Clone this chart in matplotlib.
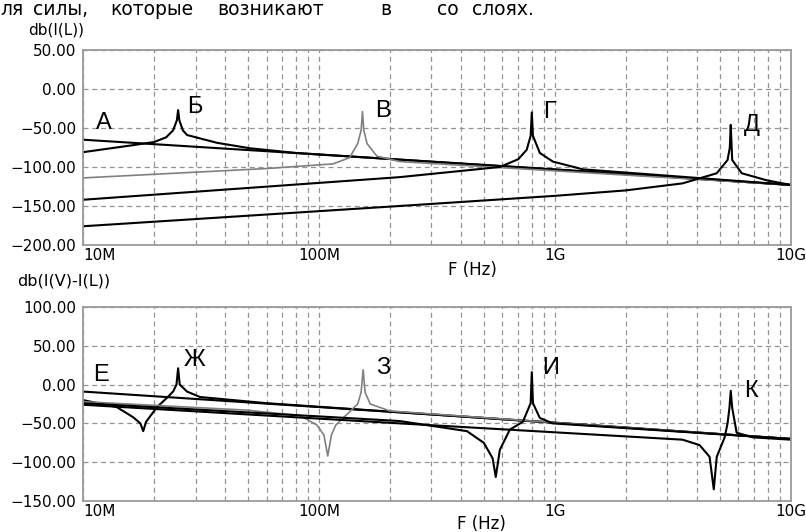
import numpy as np
import matplotlib
matplotlib.use('Agg')
import matplotlib.pyplot as plt
from matplotlib.ticker import FixedLocator, LogLocator, NullFormatter

# ---- data (frequency in MHz, level in dB) ----
# top plot: db(I(L))
a_f = [10, 100, 1000, 10000]
a_db = [-65, -84, -103, -123]

b_f = [10, 16.3, 20, 22.5, 24.1, 25.0, 25.3, 25.6, 26.5, 27.6, 37, 51, 80, 10000]
b_db = [-81, -72, -68, -62, -53, -40, -27, -40, -53, -59, -69, -76, -82, -123]

v_f = [10, 60, 115, 135, 146, 151, 153, 155, 160, 176, 220, 280, 10000]
v_db = [-114, -102, -96, -88, -70, -53, -29, -53, -70, -86, -93, -95, -123]

g_f = [10, 220, 585, 700, 760, 790, 799, 808, 864, 980, 1315, 10000]
g_db = [-142, -113, -100, -90, -78, -60, -30, -60, -82, -93, -103, -123]

d_f = [10, 220, 1000, 2000, 3480, 4860, 5400, 5520, 5570, 5620, 5650, 6200, 7900, 10000]
d_db = [-176, -150, -137, -130, -121, -108, -91, -75, -46, -75, -91, -108, -117, -123]

# bottom plot: db(I(V)-I(L))
e_f = [10, 100, 1000, 10000]
e_db = [-9, -29, -49, -70]

zh_f = [10, 13.9, 16.3, 17.5, 18.0, 18.5, 20.6, 22.7, 24.1, 24.9, 25.3, 25.7, 27.6, 31.3, 60, 10000]
zh_db = [-20, -29, -42, -50, -60, -48, -29, -17, -9, 0, 21, 0, -9, -16, -24, -70]

z_f = [10, 50, 83, 98, 105, 109, 113, 118, 135, 146, 151, 154, 157, 165, 200, 1000, 10000]
z_db = [-22, -33, -40, -52, -65, -92, -65, -52, -35, -25, -10, 19, -10, -25, -34, -49, -70]

i_f = [10, 100, 220, 424, 500, 545, 562, 585, 645, 732, 790, 799, 808, 864, 980, 10000]
i_db = [-24, -41, -47, -60, -75, -95, -119, -84, -58, -48, -24, 16, -24, -43, -50, -70]

k_f = [10, 220, 3480, 4110, 4530, 4720, 4860, 5250, 5400, 5500, 5570, 5650, 5900, 6900, 10000]
k_db = [-26, -50, -71, -78, -93, -135, -93, -68, -50, -30, -8, -30, -62, -68, -71]

ticks_f = [10, 100, 1000, 10000]
ticks_lbl = ['10M', '100M', '1G', '10G']

top_curves = [(a_f, a_db, 'black'), (b_f, b_db, 'black'), (v_f, v_db, 'gray'),
              (g_f, g_db, 'black'), (d_f, d_db, 'black')]
bot_curves = [(e_f, e_db, 'black'), (zh_f, zh_db, 'black'), (z_f, z_db, 'gray'),
              (i_f, i_db, 'black'), (k_f, k_db, 'black')]

top_letters = [('А', 12.2, -44), ('Б', 29.8, -23), ('В', 187, -28), ('Г', 952, -30), ('Д', 6840, -46)]
bot_letters = [('Е', 11.9, 12), ('Ж', 29.8, 32), ('З', 187, 21), ('И', 961, 21), ('К', 6770, -8)]

# words of the book line above the figure, with their left edge in pixels
book_words = [('ля', 0), ('силы,', 33), ('которые', 110), ('возникают', 217), ('в', 380),
              ('со', 437), ('слоях.', 472)]

plt.rcParams['font.family'] = ['DejaVu Sans']

W, H = 806, 532
fig = plt.figure(figsize=(W / 100, H / 100), dpi=100)
fig.patch.set_facecolor('white')

ax1 = fig.add_axes([0.103, 0.5395, 0.878, 0.3665])
ax2 = fig.add_axes([0.103, 0.0583, 0.878, 0.3647])


def style(ax, ylo, yhi):
    ax.set_xscale('log')
    ax.set_xlim(10, 10000)
    ax.set_ylim(ylo, yhi)
    yt = np.arange(ylo, yhi + 1, 50)
    ax.set_yticks(yt)
    ax.set_yticklabels([('%.2f' % v).replace('-', '\u2212') for v in yt])
    ax.xaxis.set_major_locator(FixedLocator(ticks_f))
    ax.set_xticklabels(ticks_lbl)
    ax.xaxis.set_minor_locator(LogLocator(base=10, subs=np.arange(2, 10)))
    ax.xaxis.set_minor_formatter(NullFormatter())
    ax.tick_params(length=0, which='both', labelsize=11, colors='black')
    ax.tick_params(axis='y', pad=5)
    ax.tick_params(axis='x', pad=2)
    ax.get_xticklabels()[0].set_horizontalalignment('left')
    ax.grid(True, which='both', axis='x', color='#939393', linestyle=(0, (4, 3)), linewidth=0.9)
    ax.grid(True, which='major', axis='y', color='#939393', linestyle=(0, (4, 3)), linewidth=0.9)
    for s in ax.spines.values():
        s.set_color('#9a9a9a')
        s.set_linewidth(1.3)


style(ax1, -200, 50)
style(ax2, -150, 100)

for f, db, c in top_curves:
    ax1.plot(f, db, color=c, lw=1.5 if c == 'black' else 1.2)
for f, db, c in bot_curves:
    ax2.plot(f, db, color=c, lw=1.5 if c == 'black' else 1.2)

for t, x, y in top_letters:
    ax1.text(x, y, t, fontsize=17, family='Liberation Sans', ha='center', va='center')
for t, x, y in bot_letters:
    ax2.text(x, y, t, fontsize=17, family='Liberation Sans', ha='center', va='center')

fig.text(28 / W, 1 - 30 / H, 'db(I(L))', fontsize=11, ha='left', va='center')
fig.text(17 / W, 1 - 281 / H, 'db(I(V)-I(L))', fontsize=11.5, ha='left', va='center')
fig.text(472 / W, 1 - 270 / H, 'F (Hz)', fontsize=12, ha='center', va='center')
fig.text(481 / W, 1 - 524 / H, 'F (Hz)', fontsize=12, ha='center', va='center')

for word, px in book_words:
    fig.text(px / W, 1 - 15 / H, word, fontsize=13.5, ha='left', va='baseline')

fig.savefig('out.png', dpi=100)
